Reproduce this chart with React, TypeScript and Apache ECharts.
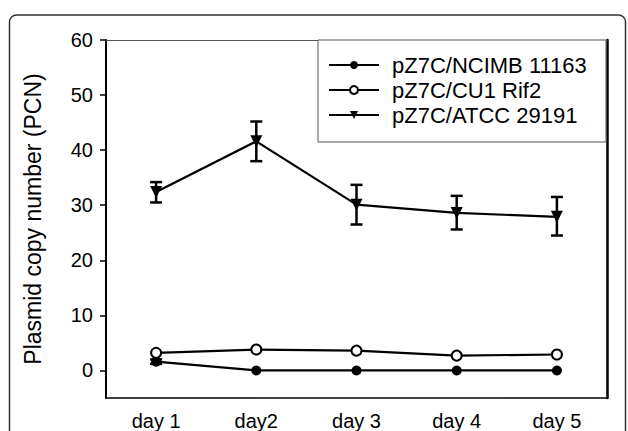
import React, { useEffect, useRef } from "react";
import * as echarts from "echarts";

const days = ["day 1", "day2", "day 3", "day 4", "day 5"];
const yTicks = [0, 10, 20, 30, 40, 50, 60];
const seriesNames = ["pZ7C/NCIMB 11163", "pZ7C/CU1 Rif2", "pZ7C/ATCC 29191"];
const ncimb = [1.6, 0, 0, 0, 0];
const cu1 = [3.2, 3.8, 3.6, 2.7, 2.9];
const atcc = [32.4, 41.6, 30.1, 28.6, 27.9];
const atccLow = [30.5, 38.0, 26.5, 25.6, 24.5];
const atccHigh = [34.2, 45.2, 33.7, 31.7, 31.5];
const ncimbLow = [1.2, 0, 0, 0, 0];
const ncimbHigh = [2.0, 0, 0, 0, 0];

const FONT = "'Liberation Sans', Arial, sans-serif";

export default function App() {
  const ref = useRef<HTMLDivElement>(null);
  useEffect(() => {
    document.body.style.margin = "0";
    const chart = echarts.init(ref.current!, null, { renderer: "svg" });
    const errData = days.map((_, i) => [i, atccLow[i], atccHigh[i]]).concat(
      days.map((_, i) => [i, ncimbLow[i], ncimbHigh[i]]).filter((d) => d[2] - d[1] > 0)
    );
    chart.setOption({
      animation: false,
      backgroundColor: "#fff",
      textStyle: { fontFamily: FONT },
      grid: { left: 106, right: 21, top: 40, bottom: 30 },
      graphic: [
        {
          type: "rect",
          shape: { x: 9.5, y: 15, width: 616, height: 460, r: 7 },
          style: { fill: "none", stroke: "#333", lineWidth: 1.5 },
          silent: true,
          z: 0,
        },
        {
          type: "rect",
          shape: { x: 318, y: 40, width: 288, height: 102 },
          style: { fill: "#fff", stroke: "#555", lineWidth: 1 },
          silent: true,
          z: 5,
        },
      ],
      legend: {
        orient: "vertical",
        left: 328,
        top: 54,
        padding: 0,
        itemWidth: 50,
        itemHeight: 10,
        itemGap: 3,
        z: 10,
        data: seriesNames,
        textStyle: {
          fontFamily: FONT,
          fontSize: 22,
          lineHeight: 22,
          color: "#000",
          padding: [0, 0, 0, 8],
        },
      },
      xAxis: [
        {
          type: "category",
          data: days,
          position: "bottom",
          boundaryGap: true,
          axisLine: { onZero: false, lineStyle: { color: "#000", width: 1.5 } },
          axisTick: {
            alignWithLabel: true,
            length: 6,
            lineStyle: { color: "#000", width: 2 },
          },
          axisLabel: {
            fontFamily: FONT,
            fontSize: 20,
            color: "#000",
            margin: 13,
          },
        },
        {
          type: "category",
          data: days,
          position: "top",
          axisLine: { onZero: false, lineStyle: { color: "#555", width: 1 } },
          axisTick: { show: false },
          axisLabel: { show: false },
        },
      ],
      yAxis: [
        {
          type: "value",
          min: -5,
          max: 60,
          splitLine: { show: false },
          axisLine: { show: true, onZero: false, lineStyle: { color: "#000", width: 2 } },
          axisTick: {
            show: true,
            length: 6,
            customValues: yTicks,
            lineStyle: { color: "#000", width: 1.5 },
          },
          axisLabel: {
            customValues: yTicks,
            fontFamily: FONT,
            fontSize: 20,
            color: "#000",
            margin: 13,
          },
          name: "Plasmid copy number (PCN)",
          nameLocation: "middle",
          nameGap: 62,
          nameTextStyle: { fontFamily: FONT, fontSize: 23, color: "#000" },
        },
        {
          type: "value",
          min: -5,
          max: 60,
          position: "right",
          splitLine: { show: false },
          axisLine: { show: true, onZero: false, lineStyle: { color: "#000", width: 2.5 } },
          axisTick: { show: false },
          axisLabel: { show: false },
        },
      ],
      series: [
        {
          type: "custom",
          name: "err",
          z: 1,
          silent: true,
          data: errData,
          encode: { x: 0, y: [1, 2] },
          renderItem: (params: any, api: any) => {
            const x = api.value(0);
            const lo = api.coord([x, api.value(1)]);
            const hi = api.coord([x, api.value(2)]);
            const hw = 6;
            const style = { stroke: "#000", lineWidth: 2.5 };
            return {
              type: "group",
              children: [
                { type: "line", shape: { x1: lo[0], y1: lo[1], x2: hi[0], y2: hi[1] }, style },
                { type: "line", shape: { x1: lo[0] - hw, y1: lo[1], x2: lo[0] + hw, y2: lo[1] }, style },
                { type: "line", shape: { x1: hi[0] - hw, y1: hi[1], x2: hi[0] + hw, y2: hi[1] }, style },
              ],
            };
          },
        },
        {
          type: "line",
          name: seriesNames[0],
          data: ncimb,
          z: 3,
          symbol: "circle",
          symbolSize: 10,
          lineStyle: { color: "#000", width: 2.2 },
          itemStyle: { color: "#000", borderColor: "#000", borderWidth: 0 },
        },
        {
          type: "line",
          name: seriesNames[1],
          data: cu1,
          z: 3,
          symbol: "circle",
          symbolSize: 10,
          lineStyle: { color: "#000", width: 2.2 },
          itemStyle: { color: "#fff", borderColor: "#000", borderWidth: 2 },
        },
        {
          type: "line",
          name: seriesNames[2],
          data: atcc,
          z: 3,
          symbol: "triangle",
          symbolRotate: 180,
          symbolSize: 12,
          lineStyle: { color: "#000", width: 2.2 },
          itemStyle: { color: "#000", borderColor: "#000", borderWidth: 0 },
        },
      ],
    });
    return () => chart.dispose();
  }, []);
  return <div ref={ref} style={{ width: 628, height: 431 }} />;
}
